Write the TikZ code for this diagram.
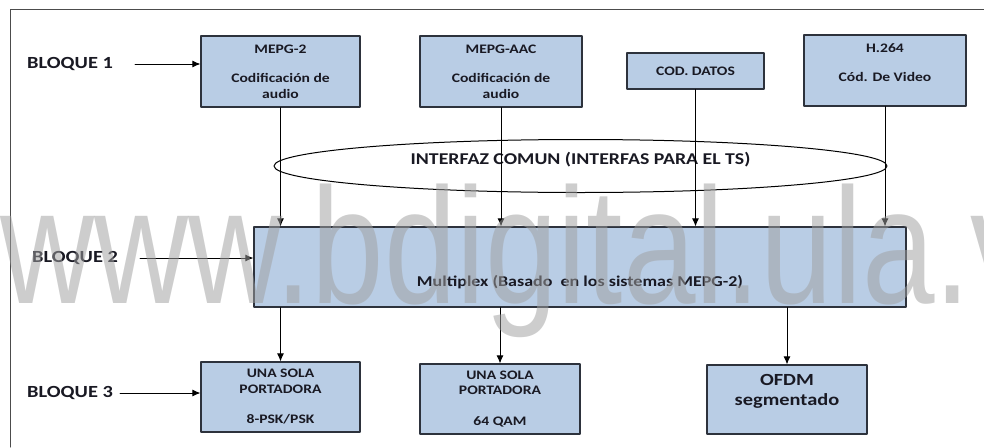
\documentclass[tikz,border=0pt]{standalone}
\usepackage{fontspec}
\setmainfont{Carlito}[FakeStretch=1.2]
\setsansfont{Liberation Sans}
\usetikzlibrary{arrows.meta,shapes.geometric}

\definecolor{cajaazul}{RGB}{185,205,229}
\definecolor{bordecaja}{RGB}{45,50,60}
\definecolor{textocaja}{RGB}{25,25,35}
\definecolor{marcaagua}{RGB}{160,160,160}

\begin{document}
\begin{tikzpicture}[x=1pt, y=-1pt, line cap=round, line join=round,
		>={Latex[length=8pt,width=7pt]},
		caja/.style={draw=bordecaja, line width=1.1pt, fill=cajaazul, align=center, text=textocaja,
			font=\bfseries\fontsize{13}{15.5}\selectfont, inner sep=0pt},
		bloque/.style={anchor=west, text=textocaja, font=\bfseries\fontsize{17}{19}\selectfont, inner sep=0pt},
		flecha/.style={->, line width=1pt, color=black}]
		
		% Ventana de dibujo
		\useasboundingbox (0,0) rectangle (984,447);
		
		% Marco exterior (solo borde superior e izquierdo)
		\draw[line width=1pt, color=black!70] (10,447) -- (10,9) -- (984,9);
		
		% Bloque 1: codificadores
		\node[caja, minimum width=159pt, minimum height=71pt] (mepgdos) at (280.5,71.5) {MEPG-2\\[14pt]Codificación de\\audio};
		\node[caja, minimum width=162pt, minimum height=71pt] (mepgaac) at (501,71.5) {MEPG-AAC\\[14pt]Codificación de\\audio};
		\node[caja, minimum width=137pt, minimum height=36pt] (datos) at (695.5,71) {COD. DATOS};
		\node[caja, minimum width=162pt, minimum height=71pt] (video) at (885,70.5) {H.264\\[14pt]Cód. De Video\\\mbox{}};
		
		% Interfaz comun (elipse)
		\node[ellipse, draw, line width=1pt, minimum width=613pt, minimum height=53pt, inner sep=0pt, text depth=15pt,
			text=textocaja, font=\bfseries\fontsize{16.5}{19}\selectfont] (interfaz) at (580.5,166) {INTERFAZ COMUN (INTERFAS PARA EL TS)};
		
		% Bloque 2: multiplex
		\node[caja, minimum width=652pt, minimum height=80pt, text height=41pt,
			font=\bfseries\fontsize{15}{18}\selectfont] (multiplex) at (580,267) {Multiplex (Basado~ en los sistemas MEPG-2)};
		
		% Bloque 3: modulaciones
		\node[caja, minimum width=159pt, minimum height=70pt] (portadorauno) at (280.5,397) {UNA SOLA\\PORTADORA\\[15pt]8-PSK/PSK};
		\node[caja, minimum width=160pt, minimum height=70pt] (portadorados) at (500,399) {UNA SOLA\\PORTADORA\\[15pt]64 QAM};
		\node[caja, minimum width=160pt, minimum height=69pt, font=\bfseries\fontsize{17}{20}\selectfont] (ofdm) at (787,399.5) {OFDM\\segmentado\\\mbox{}};
		
		% Etiquetas de los bloques
		\node[bloque] (bloqueuno) at (27,64) {BLOQUE 1};
		\node[bloque] (bloquedos) at (32,258) {BLOQUE 2};
		\node[bloque] (bloquetres) at (27,393) {BLOQUE 3};
		
		% Flechas de las etiquetas
		\draw[flecha] ([xshift=22pt]bloqueuno.east) -- (bloqueuno.east -| mepgdos.west);
		\draw[flecha] ([xshift=22pt]bloquedos.east) -- (bloquedos.east -| multiplex.west);
		\draw[flecha] ([xshift=7pt]bloquetres.east) -- (bloquetres.east -| portadorauno.west);
		
		% Flechas hacia el multiplex
		\foreach \cod in {mepgdos, mepgaac, datos, video}
		\draw[flecha] (\cod.south) -- (\cod.south |- multiplex.north);
		
		% Flechas hacia las modulaciones
		\foreach \mod in {portadorauno, portadorados, ofdm}
		\draw[flecha] (\mod.north |- multiplex.south) -- (\mod.north);
		
		% Marca de agua
		\node[anchor=base west, inner sep=0pt, xscale=0.79, text=marcaagua, opacity=0.52,
			font=\sffamily\fontsize{165}{165}\selectfont] (marca) at (0,303) {www.bdigital.ula.ve};
		
	\end{tikzpicture}
\end{document}
